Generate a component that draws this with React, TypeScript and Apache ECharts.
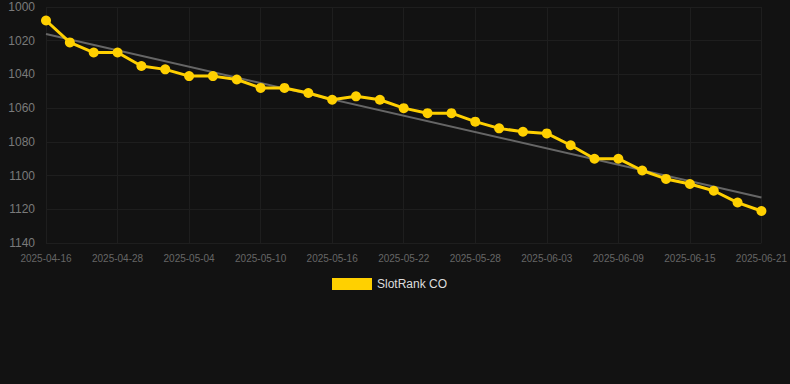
import React, { useEffect, useRef } from "react";
import * as echarts from "echarts";

const categories = [
  "2025-04-16", "2025-04-20", "2025-04-24", "2025-04-28", "2025-04-30", "2025-05-02",
  "2025-05-04", "2025-05-06", "2025-05-08", "2025-05-10", "2025-05-12", "2025-05-14",
  "2025-05-16", "2025-05-18", "2025-05-20", "2025-05-22", "2025-05-24", "2025-05-26",
  "2025-05-28", "2025-05-30", "2025-06-01", "2025-06-03", "2025-06-05", "2025-06-07",
  "2025-06-09", "2025-06-11", "2025-06-13", "2025-06-15", "2025-06-17", "2025-06-19",
  "2025-06-21",
];

const rankValues = [
  1008, 1021, 1027, 1027, 1035, 1037, 1041, 1041, 1043, 1048, 1048, 1051,
  1055, 1053, 1055, 1060, 1063, 1063, 1068, 1072, 1074, 1075, 1082, 1090,
  1090, 1097, 1102, 1105, 1109, 1116, 1121,
];

const trendStart = 1016;
const trendEnd = 1113;

const seriesName = "SlotRank CO";

export default function App() {
  const ref = useRef<HTMLDivElement>(null);
  useEffect(() => {
    document.body.style.margin = "0";
    document.body.style.background = "#121212";
    if (!ref.current) return;
    const chart = echarts.init(ref.current, null, { renderer: "svg" });
    const trendData = categories.map((_, i) =>
      i === 0 ? trendStart : i === categories.length - 1 ? trendEnd : null
    );
    chart.setOption({
      animation: false,
      backgroundColor: "#121212",
      textStyle: { fontFamily: "Liberation Sans, Arial, sans-serif" },
      grid: { left: 46, right: 28, top: 7, bottom: 141, containLabel: false },
      legend: {
        data: [seriesName],
        top: 273,
        left: 327,
        itemWidth: 40,
        itemHeight: 12,
        itemGap: 10,
        icon: "rect",
        textStyle: { color: "#dddddd", fontSize: 12 },
      },
      xAxis: {
        type: "category",
        data: categories,
        boundaryGap: false,
        axisLine: { show: false },
        axisTick: { show: false },
        axisLabel: { color: "#666666", fontSize: 10, interval: 2, margin: 10 },
        splitLine: { show: true, interval: 2, lineStyle: { color: "#1e1e1e", width: 1 } },
      },
      yAxis: {
        type: "value",
        inverse: true,
        min: 1000,
        max: 1140,
        interval: 20,
        axisLine: { show: false },
        axisTick: { show: false },
        axisLabel: {
          color: "#7a7a7a",
          fontSize: 12,
          margin: 11,
          formatter: (v: number) => String(v),
        },
        splitLine: { lineStyle: { color: "#1e1e1e", width: 1 } },
      },
      series: [
        {
          name: "trend",
          type: "line",
          data: trendData,
          connectNulls: true,
          symbol: "none",
          lineStyle: { color: "#666666", width: 2 },
          z: 1,
          silent: true,
        },
        {
          name: seriesName,
          type: "line",
          data: rankValues,
          symbol: "circle",
          symbolSize: 10,
          itemStyle: { color: "#FFD000" },
          lineStyle: { color: "#FFD000", width: 3 },
          z: 2,
        },
      ],
    });
    return () => chart.dispose();
  }, []);
  return <div ref={ref} style={{ width: 790, height: 384 }} />;
}
